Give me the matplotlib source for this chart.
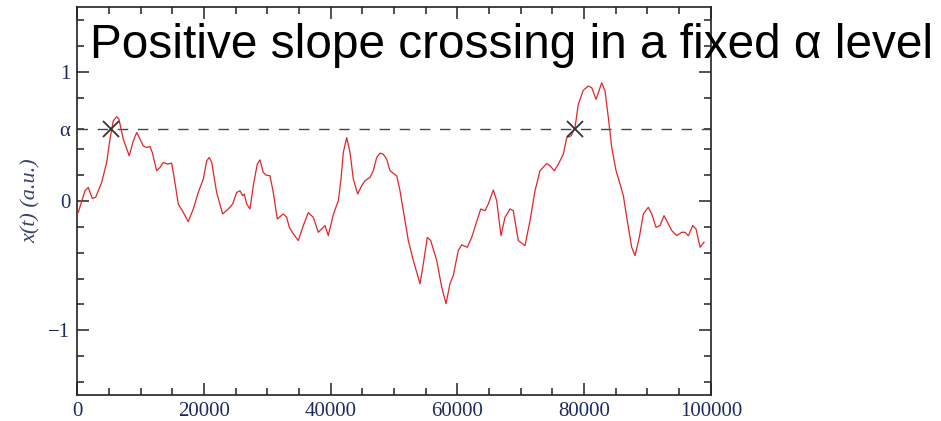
# Level crossing sketch: signal x(t) with the upward crossings of a fixed alpha level marked
import numpy as np
import matplotlib
matplotlib.use("Agg")
import matplotlib.pyplot as plt

# sampled signal (time, amplitude in a.u.)
t = [160, 740, 1220, 1740, 2370, 2900, 3850, 4640, 5160, 5680,
     6220, 6580, 7260, 8210, 8840, 9380, 9790, 10420, 10960, 11480,
     11840, 12530, 13050, 13580, 14270, 14900, 15420, 15940, 16730, 17520,
     18310, 19100, 19890, 20430, 20840, 21220, 22000, 22950, 23840, 24530,
     25160, 25680, 26110, 26360, 26740, 27260, 27780, 28410, 28840, 29360,
     29790, 30420, 30940, 31570, 32520, 33050, 33470, 34100, 34890, 35680,
     36460, 37250, 38040, 39100, 39620, 40410, 41200, 41630, 41990, 42530,
     43050, 43570, 44260, 44890, 45410, 46200, 46720, 47260, 47780, 48300,
     48840, 49360, 49880, 50420, 50940, 51460, 52250, 53040, 54100, 54620,
     55250, 55790, 56730, 57520, 58200, 58830, 59350, 60140, 60680, 61560,
     62260, 62940, 63680, 64360, 64880, 65670, 66200, 66880, 67510, 68300,
     68820, 69610, 70670, 71460, 72250, 73040, 74100, 74620, 75300, 75930,
     76720, 77250, 77930, 78560, 79080, 79870, 80660, 81200, 81880, 82780,
     83300, 83820, 84360, 85040, 85670, 86190, 86720, 87510, 88040, 88710,
     89350, 90130, 90670, 91350, 91980, 92610, 93290, 93830, 94620, 95410,
     95930, 96450, 97140, 97660, 98300, 98930]
x = [-0.088, 0.002, 0.079, 0.105, 0.020, 0.028, 0.143, 0.298, 0.478, 0.619,
     0.652, 0.632, 0.478, 0.349, 0.465, 0.529, 0.490, 0.426, 0.413, 0.421,
     0.375, 0.234, 0.259, 0.298, 0.285, 0.293, 0.143, -0.023, -0.088, -0.160,
     -0.062, 0.066, 0.170, 0.311, 0.336, 0.298, 0.066, -0.100, -0.062, -0.023,
     0.066, 0.079, 0.041, 0.054, -0.023, -0.062, 0.118, 0.285, 0.318, 0.221,
     0.200, 0.195, 0.066, -0.139, -0.100, -0.126, -0.204, -0.254, -0.306, -0.190,
     -0.090, -0.126, -0.242, -0.190, -0.268, -0.106, 0.002, 0.170, 0.375, 0.490,
     0.375, 0.170, 0.054, 0.118, 0.157, 0.182, 0.234, 0.336, 0.370, 0.362,
     0.324, 0.234, 0.214, 0.195, 0.079, -0.075, -0.306, -0.460, -0.640, -0.486,
     -0.281, -0.306, -0.460, -0.666, -0.794, -0.640, -0.576, -0.383, -0.339, -0.358,
     -0.281, -0.177, -0.062, -0.075, -0.023, 0.085, 0.002, -0.268, -0.126, -0.062,
     -0.075, -0.306, -0.345, -0.152, 0.079, 0.234, 0.290, 0.272, 0.234, 0.285,
     0.362, 0.490, 0.503, 0.567, 0.748, 0.856, 0.889, 0.876, 0.786, 0.914,
     0.850, 0.645, 0.413, 0.234, 0.131, 0.041, -0.126, -0.358, -0.422, -0.281,
     -0.100, -0.049, -0.100, -0.204, -0.190, -0.113, -0.177, -0.229, -0.268, -0.242,
     -0.242, -0.268, -0.190, -0.216, -0.358, -0.319]

alpha = 0.56
crossings = [5320, 78560]

yticks = [-1, 0, alpha, 1]
ytick_labels = ["\u22121", "0", "\u03b1", "1"]
xticks = [0, 20000, 40000, 60000, 80000, 100000]
xtick_labels = ["0", "20000", "40000", "60000", "80000", "100000"]

SERIF = ["Liberation Serif", "DejaVu Serif"]
NAVY = "#1d2b5e"


def main():
    fig = plt.figure(figsize=(9.41, 4.21), dpi=100)
    ax = fig.add_axes([0.0821, 0.0618, 0.6733, 0.9216])

    ax.plot(t, x, color="#e0262a", lw=0.9, zorder=3)
    ax.axhline(alpha, color="#444444", lw=1.0, ls=(0, (7.5, 7)), zorder=2)
    ax.plot(crossings, [alpha] * len(crossings), ls="none", marker="x",
            ms=11.5, mew=1.3, color="#333333", zorder=4)

    ax.set_xlim(0, 100000)
    ax.set_ylim(-1.5, 1.5)

    ax.set_xticks(xticks)
    ax.set_xticklabels(xtick_labels)
    ax.set_xticks(np.arange(0, 100001, 5000), minor=True)
    ax.set_yticks(yticks)
    ax.set_yticklabels(ytick_labels)
    ax.set_yticks([-1.4, -1.2, -0.8, -0.6, -0.4, -0.2, 0.2, 0.4, 0.8, 1.2, 1.4], minor=True)

    ax.tick_params(which="both", direction="in", top=True, right=True,
                   color="#222222", width=1.1)
    ax.tick_params(which="major", length=8.5, pad=5)
    ax.tick_params(which="minor", length=5)
    ax.yaxis.get_major_ticks()[2].tick1line.set_markersize(5)
    ax.yaxis.get_major_ticks()[2].tick2line.set_markersize(5)

    for lab in ax.get_xticklabels() + ax.get_yticklabels():
        lab.set_family(SERIF)
        lab.set_fontsize(15)
        lab.set_color(NAVY)

    for sp in ax.spines.values():
        sp.set_linewidth(1.2)
        sp.set_color("#222222")

    ax.set_ylabel("x(t) (a.u.)", family=SERIF, style="italic", fontsize=16,
                  color="#3a4468", labelpad=5)

    fig.text(0.0956, 0.862, "Positive slope crossing in a fixed \u03b1 level",
             family=["Liberation Sans", "DejaVu Sans"], fontsize=34.4,
             va="baseline", ha="left", color="black")

    fig.savefig("out.png", dpi=100)


if __name__ == "__main__":
    main()
